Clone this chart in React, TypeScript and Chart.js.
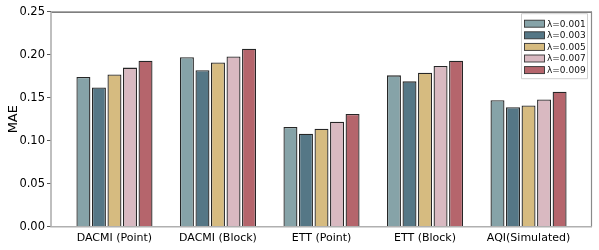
import React, { useEffect, useRef } from "react";
import { Chart, registerables } from "chart.js";

Chart.register(...registerables);

const categories = ["DACMI (Point)", "DACMI (Block)", "ETT (Point)", "ETT (Block)", "AQI(Simulated)"];
const seriesLabels = ["λ=0.001", "λ=0.003", "λ=0.005", "λ=0.007", "λ=0.009"];
const lambda001 = [0.174, 0.197, 0.116, 0.176, 0.147];
const lambda003 = [0.162, 0.182, 0.108, 0.169, 0.139];
const lambda005 = [0.177, 0.191, 0.114, 0.179, 0.141];
const lambda007 = [0.185, 0.198, 0.122, 0.187, 0.148];
const lambda009 = [0.193, 0.207, 0.131, 0.193, 0.157];
const yTicks = [0, 0.05, 0.1, 0.15, 0.2, 0.25];
const colors = ["#86a3a8", "#557786", "#d6bb80", "#d9b9c1", "#b5656c"];

const FONT = "'DejaVu Sans', sans-serif";

const framePlugin = {
  id: "frame",
  afterDatasetsDraw(chart: any) {
    const { ctx, chartArea: a } = chart;
    ctx.save();
    ctx.lineWidth = 1.2;
    ctx.strokeStyle = "#555555";
    ctx.beginPath();
    ctx.moveTo(a.left, a.top + 0.5);
    ctx.lineTo(a.right, a.top + 0.5);
    ctx.stroke();
    ctx.strokeStyle = "#8a8a8a";
    ctx.beginPath();
    ctx.moveTo(a.right - 0.5, a.top);
    ctx.lineTo(a.right - 0.5, a.bottom);
    ctx.stroke();
    ctx.lineWidth = 1.6;
    ctx.strokeStyle = "#b0b0b0";
    ctx.beginPath();
    ctx.moveTo(a.left, a.top);
    ctx.lineTo(a.left, a.bottom);
    ctx.lineTo(a.right, a.bottom);
    ctx.stroke();
    ctx.restore();
  },
};

const legendPlugin = {
  id: "boxLegend",
  afterDraw(chart: any) {
    const { ctx, chartArea: a } = chart;
    const boxW = 66;
    const boxH = 65;
    const x0 = a.right - 5 - boxW;
    const y0 = a.top + 1.5;
    ctx.save();
    ctx.fillStyle = "rgba(255,255,255,0.85)";
    ctx.strokeStyle = "#d0d0d0";
    ctx.lineWidth = 1;
    ctx.beginPath();
    ctx.rect(x0 + 0.5, y0 + 0.5, boxW, boxH);
    ctx.fill();
    ctx.stroke();
    ctx.font = `9px ${FONT}`;
    ctx.textBaseline = "middle";
    chart.data.datasets.forEach((ds: any, i: number) => {
      const cy = y0 + 10.5 + i * 11.6;
      ctx.fillStyle = ds.backgroundColor;
      ctx.strokeStyle = "#333333";
      ctx.lineWidth = 0.9;
      ctx.fillRect(x0 + 3.5, cy - 3.5, 20, 7);
      ctx.strokeRect(x0 + 3.5, cy - 3.5, 20, 7);
      ctx.fillStyle = "#111111";
      ctx.fillText(ds.label, x0 + 26, cy + 0.5);
    });
    ctx.restore();
  },
};

export default function App() {
  const ref = useRef<HTMLCanvasElement>(null);
  useEffect(() => {
    document.body.style.margin = "0";
    const allSeries = [lambda001, lambda003, lambda005, lambda007, lambda009];
    const chart = new Chart(ref.current!, {
      type: "bar",
      data: {
        datasets: allSeries.map((vals, s) => ({
          label: seriesLabels[s],
          data: vals.map((v, i) => ({ x: i, y: v })),
          backgroundColor: colors[s],
          borderColor: "#262626",
          borderWidth: 1.3,
          categoryPercentage: 0.75,
          barPercentage: 0.9,
        })),
      },
      options: {
        responsive: false,
        animation: false,
        layout: { padding: { top: 11.7, right: 7, left: 0, bottom: 0 } },
        plugins: { legend: { display: false }, tooltip: { enabled: false } },
        scales: {
          x: {
            type: "linear",
            min: -0.613,
            max: 4.613,
            offset: false,
            grid: { display: false, drawTicks: false },
            border: { display: false },
            afterBuildTicks: (scale: any) => {
              scale.ticks = categories.map((_, i) => ({ value: i }));
            },
            afterFit: (scale: any) => {
              scale.height = 23.3;
            },
            ticks: {
              autoSkip: false,
              maxRotation: 0,
              padding: 5,
              color: "#000000",
              font: { family: FONT, size: 11 },
              callback: (v: any) => categories[Math.round(v)] ?? "",
            },
          },
          y: {
            min: 0,
            max: 0.25,
            afterBuildTicks: (scale: any) => {
              scale.ticks = yTicks.map((v) => ({ value: v }));
            },
            afterFit: (scale: any) => {
              scale.width = 51;
            },
            grid: {
              display: true,
              drawOnChartArea: false,
              drawTicks: true,
              tickLength: 4,
              color: "#555555",
              tickWidth: 1,
            },
            border: { display: false },
            title: {
              display: true,
              text: "MAE",
              color: "#000000",
              font: { family: FONT, size: 13 },
              padding: { top: 6, bottom: 0 },
            },
            ticks: {
              color: "#000000",
              padding: 2,
              font: { family: FONT, size: 11.5 },
              callback: (v: any) => Number(v).toFixed(2),
            },
          },
        },
      },
      plugins: [framePlugin, legendPlugin],
    });
    return () => chart.destroy();
  }, []);
  return (
    <div style={{ width: 599, height: 250 }}>
      <canvas ref={ref} width={599} height={250} />
    </div>
  );
}
